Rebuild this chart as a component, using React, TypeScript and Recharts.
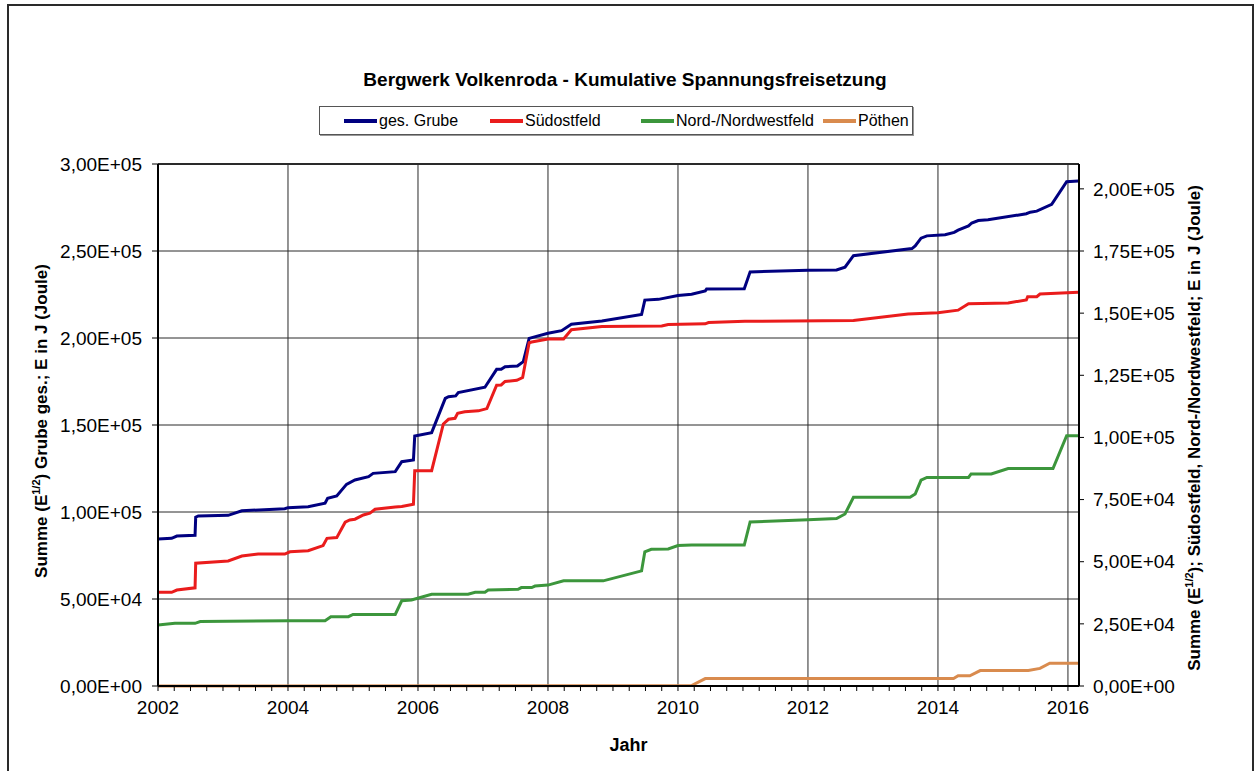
import React from 'react';
import { LineChart, Line, XAxis, YAxis, ReferenceLine, Legend } from 'recharts';

const FONT = "'Liberation Sans', Arial, Helvetica, sans-serif";

const seriesNames = ['ges. Grube', 'Südostfeld', 'Nord-/Nordwestfeld', 'Pöthen'];
const seriesColors = ['#000080', '#ea1c1c', '#3c963c', '#d98b4e'];

// [year, value] – ges. Grube (left axis)
const gesGrube: [number, number][] = [
  [2002.0, 84500], [2002.21, 84900], [2002.29, 86200], [2002.57, 86600], [2002.58, 97000],
  [2002.62, 97700], [2003.08, 98100], [2003.29, 100700], [2003.95, 101900], [2004.0, 102500],
  [2004.31, 103000], [2004.57, 105000], [2004.61, 107900], [2004.75, 109200], [2004.9, 115900],
  [2005.03, 118400], [2005.24, 120300], [2005.31, 122200], [2005.65, 123200], [2005.75, 128900],
  [2005.93, 129900], [2005.95, 143700], [2006.21, 145600], [2006.42, 165300], [2006.47, 166300],
  [2006.58, 166700], [2006.62, 168600], [2007.03, 171700], [2007.21, 182000], [2007.28, 182000],
  [2007.34, 183500], [2007.53, 183900], [2007.62, 186400], [2007.71, 199800], [2008.0, 202700],
  [2008.21, 204200], [2008.36, 207900], [2008.83, 209800], [2009.44, 213500], [2009.49, 221800],
  [2009.7, 222200], [2010.0, 224400], [2010.21, 225100], [2010.42, 227100], [2010.44, 228100],
  [2011.02, 228300], [2011.11, 238000], [2012.0, 238900], [2012.44, 239100], [2012.57, 240700],
  [2012.7, 247300], [2013.6, 251400], [2013.65, 252900], [2013.74, 257400], [2013.83, 258700],
  [2014.11, 259300], [2014.25, 260700], [2014.31, 262000], [2014.47, 264400], [2014.52, 266100],
  [2014.62, 267500], [2014.77, 267900], [2015.36, 271400], [2015.42, 272300], [2015.52, 272900],
  [2015.75, 276800], [2015.98, 289800], [2016.16, 290200],
];

// Südostfeld (right axis)
const suedostfeld: [number, number][] = [
  [2002.0, 37700], [2002.21, 37700], [2002.29, 38600], [2002.57, 39500], [2002.58, 49400],
  [2003.08, 50300], [2003.29, 52300], [2003.54, 53100], [2003.95, 53100], [2004.03, 54000],
  [2004.31, 54400], [2004.54, 56500], [2004.6, 59400], [2004.75, 59700], [2004.88, 65900],
  [2004.95, 66800], [2005.03, 67100], [2005.16, 68800], [2005.26, 69500], [2005.34, 71100],
  [2005.65, 72000], [2005.75, 72200], [2005.93, 73100], [2005.95, 86600], [2006.21, 86600],
  [2006.39, 105400], [2006.47, 107300], [2006.57, 107700], [2006.61, 109700], [2006.72, 110300],
  [2006.93, 110700], [2007.06, 111600], [2007.21, 121000], [2007.28, 121100], [2007.34, 122500],
  [2007.52, 123000], [2007.61, 124100], [2007.71, 138100], [2007.75, 138400], [2008.0, 139600],
  [2008.24, 139600], [2008.36, 143300], [2008.83, 144600], [2009.75, 144800], [2009.85, 145400],
  [2010.42, 145700], [2010.47, 146200], [2011.03, 146700], [2012.7, 147000], [2013.54, 149700],
  [2014.0, 150200], [2014.31, 151200], [2014.47, 153800], [2015.08, 154100], [2015.36, 155300],
  [2015.38, 156600], [2015.52, 156600], [2015.57, 157700], [2016.16, 158400],
];

// Nord-/Nordwestfeld (right axis)
const nordNordwestfeld: [number, number][] = [
  [2002.0, 24500], [2002.26, 25200], [2002.57, 25200], [2002.65, 25900], [2004.0, 26300],
  [2004.57, 26300], [2004.66, 27900], [2004.93, 27900], [2005.0, 28800], [2005.65, 28800],
  [2005.75, 34300], [2005.9, 34600], [2006.21, 36900], [2006.77, 36900], [2006.88, 37700],
  [2007.03, 37700], [2007.08, 38600], [2007.54, 38900], [2007.59, 39600], [2007.75, 39600],
  [2007.8, 40200], [2008.0, 40600], [2008.24, 42300], [2008.85, 42300], [2009.44, 46300],
  [2009.49, 54000], [2009.59, 55000], [2009.85, 55100], [2010.0, 56500], [2010.21, 56700],
  [2011.02, 56700], [2011.11, 66000], [2012.0, 66900], [2012.44, 67400], [2012.57, 69200],
  [2012.7, 75900], [2013.57, 75900], [2013.65, 77200], [2013.74, 82800], [2013.83, 83900],
  [2014.47, 83900], [2014.51, 85300], [2014.82, 85300], [2015.08, 87500], [2015.77, 87500],
  [2015.98, 100700], [2016.16, 100700],
];

// Pöthen (right axis)
const poethen: [number, number][] = [
  [2002.0, 0], [2010.21, 200], [2010.42, 3000], [2014.24, 3000], [2014.31, 4100],
  [2014.49, 4100], [2014.65, 6200], [2015.39, 6200], [2015.57, 7100], [2015.72, 9200],
  [2016.16, 9200],
];

const xLabelYears = [2002, 2004, 2006, 2008, 2010, 2012, 2014, 2016];
const xGridYears = [2004, 2006, 2008, 2010, 2012, 2014, 2016];
const leftTicks = [0, 50000, 100000, 150000, 200000, 250000, 300000];
const rightTicks = [0, 25000, 50000, 75000, 100000, 125000, 150000, 175000, 200000];
const xMinorTicks = Array.from({ length: 57 }, (_, i) => 2002 + i * 0.25);

const toPts = (arr: [number, number][]) => arr.map(([t, v]) => ({ t, v }));

const fmtE = (v: number) => {
  const [m, e] = v.toExponential(2).split('e');
  const n = parseInt(e, 10);
  return `${m.replace('.', ',')}E${n < 0 ? '-' : '+'}${String(Math.abs(n)).padStart(2, '0')}`;
};

const LeftAxisLabel = (props: any) => {
  const vb = props.viewBox || { x: 0, y: 164, width: 158, height: 522 };
  const cx = 47;
  const cy = vb.y + vb.height / 2 - 4;
  return (
    <text x={cx} y={cy} transform={`rotate(-90, ${cx}, ${cy})`} textAnchor="middle" fontFamily={FONT} fontWeight="bold" fontSize={17} fill="#000">
      Summe (E<tspan fontSize={11} dy={-7}>1/2</tspan><tspan dy={7}>) Grube ges.; E in J (Joule)</tspan>
    </text>
  );
};

const RightAxisLabel = (props: any) => {
  const vb = props.viewBox || { x: 1079, y: 164, width: 179, height: 522 };
  const cx = 1200;
  const cy = vb.y + vb.height / 2 + 3;
  return (
    <text x={cx} y={cy} transform={`rotate(-90, ${cx}, ${cy})`} textAnchor="middle" fontFamily={FONT} fontWeight="bold" fontSize={17} fill="#000">
      Summe (E<tspan fontSize={11} dy={-7}>1/2</tspan><tspan dy={7}>); Südostfeld, Nord-/Nordwestfeld; E in J (Joule)</tspan>
    </text>
  );
};

const XAxisLabel = (props: any) => {
  const vb = props.viewBox || { x: 158, y: 686, width: 921, height: 60 };
  return (
    <text x={vb.x + vb.width / 2 + 10} y={751} textAnchor="middle" fontFamily={FONT} fontWeight="bold" fontSize={18} fill="#000">
      Jahr
    </text>
  );
};

const legendOffsets = [24, 170, 321, 503];

const renderLegend = () => (
  <div
    style={{
      position: 'relative', width: 594, height: 29, boxSizing: 'border-box',
      border: '1px solid #555', background: '#fff', fontFamily: FONT, fontSize: 16, color: '#000',
      boxShadow: '1px 1px 0 #999',
    }}
  >
    {seriesNames.map((n, i) => (
      <div key={n} style={{ position: 'absolute', left: legendOffsets[i], top: 0, height: 27, display: 'flex', alignItems: 'center', whiteSpace: 'nowrap' }}>
        <span style={{ display: 'inline-block', width: 33, height: 4, background: seriesColors[i], marginRight: 2 }} />
        <span>{n}</span>
      </div>
    ))}
  </div>
);

export default function App() {
  const seriesData = [gesGrube, suedostfeld, nordNordwestfeld, poethen];
  const axisFor = ['left', 'right', 'right', 'right'];
  return (
    <div style={{ position: 'absolute', left: 0, top: 0, width: 1258, height: 771, overflow: 'hidden', background: '#fff' }}>
      <div style={{ position: 'absolute', left: 7, top: 4, width: 1247, height: 900, border: '2px solid #2a2a2a', boxSizing: 'border-box' }} />
      <div style={{ position: 'absolute', left: 0, top: 70, width: 1250, textAlign: 'center', fontFamily: FONT, fontWeight: 'bold', fontSize: 19, lineHeight: '19px', color: '#000' }}>
        Bergwerk Volkenroda - Kumulative Spannungsfreisetzung
      </div>
      <div style={{ position: 'absolute', left: 0, top: 0 }}>
        <LineChart width={1258} height={771} margin={{ top: 164, right: 0, bottom: 25, left: 0 }}>
          <XAxis
            dataKey="t"
            type="number"
            domain={[2002, 2016.17]}
            allowDataOverflow
            ticks={xMinorTicks}
            interval={0}
            tickFormatter={(v: number) => (xLabelYears.includes(v) ? String(v) : '')}
            height={60}
            tickSize={5}
            tickMargin={10}
            axisLine={{ stroke: '#000', strokeWidth: 2 }}
            tickLine={{ stroke: '#000' }}
            tick={{ fill: '#000', fontSize: 19, fontFamily: FONT }}
            label={{ content: XAxisLabel }}
          />
          <YAxis
            yAxisId="left"
            orientation="left"
            domain={[0, 300000]}
            ticks={leftTicks}
            interval={0}
            width={158}
            tickSize={6}
            tickMargin={10}
            tickFormatter={fmtE}
            axisLine={{ stroke: '#000', strokeWidth: 2 }}
            tickLine={{ stroke: '#000' }}
            tick={{ fill: '#000', fontSize: 19, fontFamily: FONT }}
            label={{ content: LeftAxisLabel }}
          />
          <YAxis
            yAxisId="right"
            orientation="right"
            domain={[0, 210000]}
            ticks={rightTicks}
            interval={0}
            width={179}
            tickSize={5}
            tickMargin={9}
            tickFormatter={fmtE}
            axisLine={{ stroke: '#000', strokeWidth: 2 }}
            tickLine={{ stroke: '#000' }}
            tick={{ fill: '#000', fontSize: 19, fontFamily: FONT }}
            label={{ content: RightAxisLabel }}
          />
          {leftTicks.map((y) => (
            <ReferenceLine key={`h${y}`} yAxisId="left" y={y} stroke="#2a2a2a" strokeWidth={y === 300000 ? 2 : 1} />
          ))}
          {xGridYears.map((x) => (
            <ReferenceLine key={`v${x}`} yAxisId="left" x={x} stroke="#2a2a2a" strokeWidth={1} />
          ))}
          <Legend
            content={renderLegend}
            layout="vertical"
            align="center"
            verticalAlign="middle"
            wrapperStyle={{ left: 319, top: 106, width: 594, height: 29 }}
          />
          {seriesData.map((d, i) => (
            <Line
              key={seriesNames[i]}
              name={seriesNames[i]}
              yAxisId={axisFor[i]}
              data={toPts(d)}
              dataKey="v"
              type="linear"
              stroke={seriesColors[i]}
              strokeWidth={3}
              dot={false}
              activeDot={false}
              isAnimationActive={false}
            />
          ))}
        </LineChart>
      </div>
    </div>
  );
}
